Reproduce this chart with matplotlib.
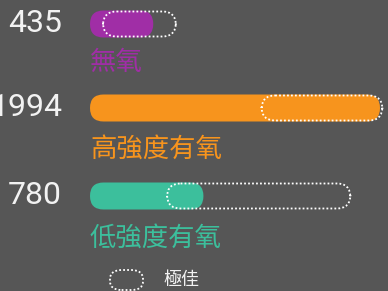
import matplotlib.pyplot as plt
import matplotlib.transforms as mtransforms
from matplotlib.patches import FancyBboxPatch

# dati
labels = ["無氧", "高強度有氧", "低強度有氧"]
values = [435, 1994, 780]
best_lo = [90, 1180, 530]
best_hi = [590, 2010, 1790]
colors = ["#a02ea6", "#f7941d", "#3cbf9c"]
legend_label = "極佳"

bg = "#565656"
cjk = ["Noto Sans CJK TC", "DejaVu Sans"]

fig = plt.figure(figsize=(3.88, 2.91), dpi=100, facecolor=bg)
ax = fig.add_axes([0, 0, 1, 1])
ax.set_facecolor(bg)

# scala: 0 a x=90px, 1994 a x=380px
upp = 1994 / 290.0
ax.set_xlim(-90 * upp, (388 - 90) * upp)
ax.set_ylim(291, 0)
ax.axis("off")

bar_y = [24, 108, 196]
lab_y = [62, 150, 238]
h = 27
asp = 1 / upp
rad = h / 2 * upp

left = mtransforms.blended_transform_factory(ax.transAxes, ax.transData)

for i in range(3):
    yc = bar_y[i]
    # barra piena
    ax.add_patch(FancyBboxPatch((0, yc - h / 2), values[i], h,
                                boxstyle="round,pad=0,rounding_size=%f" % rad,
                                mutation_aspect=asp, fc=colors[i], ec="none", zorder=2))
    # intervallo "ottimo" tratteggiato
    ax.add_patch(FancyBboxPatch((best_lo[i], yc - h / 2 + 1), best_hi[i] - best_lo[i], h - 2,
                                boxstyle="round,pad=0,rounding_size=%f" % rad,
                                mutation_aspect=asp, fc="none", ec="white",
                                lw=1.3, ls=(0, (1, 1.2)), zorder=3))
    ax.text(62 / 388, yc, str(values[i]), transform=left, ha="right", va="center",
            color="#f2f2f2", fontsize=23, family="Roboto")
    ax.text(0, lab_y[i], labels[i], ha="left", va="center", color=colors[i],
            fontsize=19, family=cjk, weight="medium")

# legenda
ax.add_patch(FancyBboxPatch((110 / 388, 1 - 290 / 291), 33 / 388, 20 / 291,
                            boxstyle="round,pad=0,rounding_size=0.03",
                            transform=ax.transAxes, fc="none", ec="white",
                            lw=1.3, ls=(0, (1, 1.2))))
ax.text(163 / 388, 280, legend_label, transform=left, ha="left", va="center",
        color="#f2f2f2", fontsize=13, family=cjk, weight="medium")

fig.savefig("out.png", dpi=100, facecolor=bg)
